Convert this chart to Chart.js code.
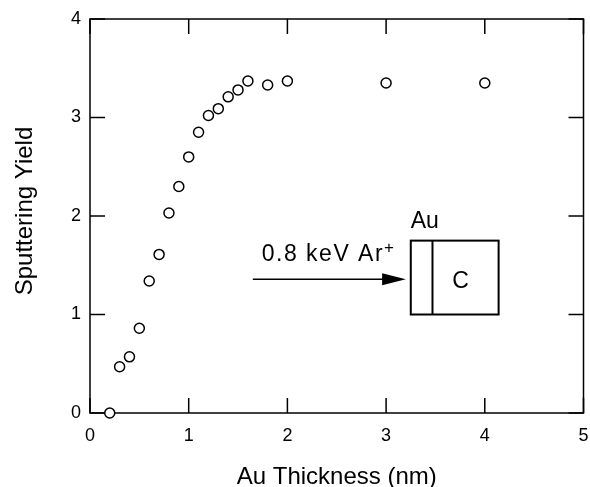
<!DOCTYPE html>
<html>
<head>
<meta charset="utf-8">
<script src="https://cdn.jsdelivr.net/npm/chart.js@4"></script>
<style>
  html, body { margin: 0; padding: 0; background: #fff; overflow: hidden; }
  #wrap { width: 590px; height: 487px; }
</style>
</head>
<body>
<div id="wrap"><canvas id="chart"></canvas></div>
<script>
// ── Data ──
const thickness = [0.2, 0.3, 0.4, 0.5, 0.6, 0.7, 0.8, 0.9, 1.0, 1.1, 1.2, 1.3, 1.4, 1.5, 1.6, 1.8, 2.0, 3.0, 4.0];
const sputterYield = [0.0, 0.47, 0.57, 0.86, 1.34, 1.61, 2.03, 2.30, 2.60, 2.85, 3.02, 3.09, 3.21, 3.28, 3.37, 3.33, 3.37, 3.35, 3.35];
const xTicks = [0, 1, 2, 3, 4, 5];
const yTicks = [0, 1, 2, 3, 4];

const FONT = "'Liberation Sans', Arial, Helvetica, sans-serif";
const INK = '#000';

// ── Frame with inward ticks on all four sides ──
const framePlugin = {
    id: 'frame',
    beforeDatasetsDraw(chart) {
        const { ctx, chartArea: a, scales: { x, y } } = chart;
        const len = 15;
        ctx.save();
        ctx.strokeStyle = INK;
        ctx.lineWidth = 1.5;
        ctx.strokeRect(a.left, a.top, a.right - a.left, a.bottom - a.top);
        ctx.beginPath();
        xTicks.forEach(function (v) {
            const px = x.getPixelForValue(v);
            ctx.moveTo(px, a.bottom); ctx.lineTo(px, a.bottom - len);
            ctx.moveTo(px, a.top); ctx.lineTo(px, a.top + len);
        });
        yTicks.forEach(function (v) {
            const py = y.getPixelForValue(v);
            ctx.moveTo(a.left, py); ctx.lineTo(a.left + len, py);
            ctx.moveTo(a.right, py); ctx.lineTo(a.right - len, py);
        });
        ctx.stroke();

        // axis titles
        ctx.fillStyle = INK;
        ctx.font = '24px ' + FONT;
        ctx.textAlign = 'center';
        ctx.textBaseline = 'alphabetic';
        ctx.fillText('Au Thickness (nm)', (a.left + a.right) / 2, 484);
        ctx.translate(31.5, 211);
        ctx.rotate(-Math.PI / 2);
        ctx.fillText('Sputtering Yield', 0, 0);
        ctx.restore();
    }
};

// ── Inset sketch: ion beam hitting Au film on C ──
const insetPlugin = {
    id: 'inset',
    afterDatasetsDraw(chart) {
        const { ctx, scales: { x, y } } = chart;
        const X = v => x.getPixelForValue(v);
        const Y = v => y.getPixelForValue(v);
        ctx.save();
        ctx.strokeStyle = INK;
        ctx.fillStyle = INK;

        // arrow
        const ay = Y(1.357);
        ctx.lineWidth = 1.5;
        ctx.beginPath();
        ctx.moveTo(X(1.65), ay);
        ctx.lineTo(X(2.98), ay);
        ctx.stroke();
        ctx.beginPath();
        ctx.moveTo(X(3.20), ay);
        ctx.lineTo(X(2.96), ay - 6);
        ctx.lineTo(X(2.96), ay + 6);
        ctx.closePath();
        ctx.fill();

        // target box
        ctx.lineWidth = 2;
        ctx.strokeRect(X(3.25), Y(1.75), X(4.14) - X(3.25), Y(1.0) - Y(1.75));
        ctx.beginPath();
        ctx.moveTo(X(3.47), Y(1.75));
        ctx.lineTo(X(3.47), Y(1.0));
        ctx.stroke();

        // labels
        ctx.font = '23px ' + FONT;
        ctx.textBaseline = 'alphabetic';
        ctx.textAlign = 'left';
        ctx.fillText('Au', X(3.25), Y(1.875));
        const txt = '0.8 keV Ar';
        ctx.letterSpacing = '1.5px';
        ctx.fillText(txt, X(1.74), Y(1.545));
        const w = ctx.measureText(txt).width;
        ctx.letterSpacing = '0px';
        ctx.font = '17px ' + FONT;
        ctx.fillText('+', X(1.74) + w, Y(1.545) - 8);
        ctx.font = '23px ' + FONT;
        ctx.textAlign = 'center';
        ctx.textBaseline = 'middle';
        ctx.fillText('C', X(3.755), Y(1.33));
        ctx.restore();
    }
};

new Chart(document.getElementById('chart'), {
    type: 'scatter',
    data: {
        datasets: [{
            data: thickness.map((t, i) => ({ x: t, y: sputterYield[i] })),
            pointStyle: 'circle',
            pointRadius: 5,
            pointBorderWidth: 1.5,
            pointBorderColor: INK,
            pointBackgroundColor: '#fff',
            clip: false,
        }]
    },
    options: {
        responsive: true,
        maintainAspectRatio: false,
        animation: false,
        events: [],
        layout: { padding: { top: 19, right: 5, left: 0, bottom: 0 } },
        plugins: {
            legend: { display: false },
            tooltip: { enabled: false }
        },
        scales: {
            x: {
                type: 'linear',
                min: 0,
                max: 5,
                afterFit: s => { s.height = 74; s.paddingLeft = 0; s.paddingRight = 0; },
                afterBuildTicks: s => { s.ticks = xTicks.map(v => ({ value: v })); },
                grid: { display: false, drawTicks: false },
                border: { display: false },
                ticks: { color: INK, padding: 12, font: { family: FONT, size: 18 } }
            },
            y: {
                type: 'linear',
                min: 0,
                max: 4,
                afterFit: s => { s.width = 90; s.paddingTop = 0; s.paddingBottom = 0; },
                afterBuildTicks: s => { s.ticks = yTicks.map(v => ({ value: v })); },
                grid: { display: false, drawTicks: false },
                border: { display: false },
                ticks: { color: INK, padding: 9, font: { family: FONT, size: 18 } }
            }
        }
    },
    plugins: [framePlugin, insetPlugin]
});
</script>
</body>
</html>
